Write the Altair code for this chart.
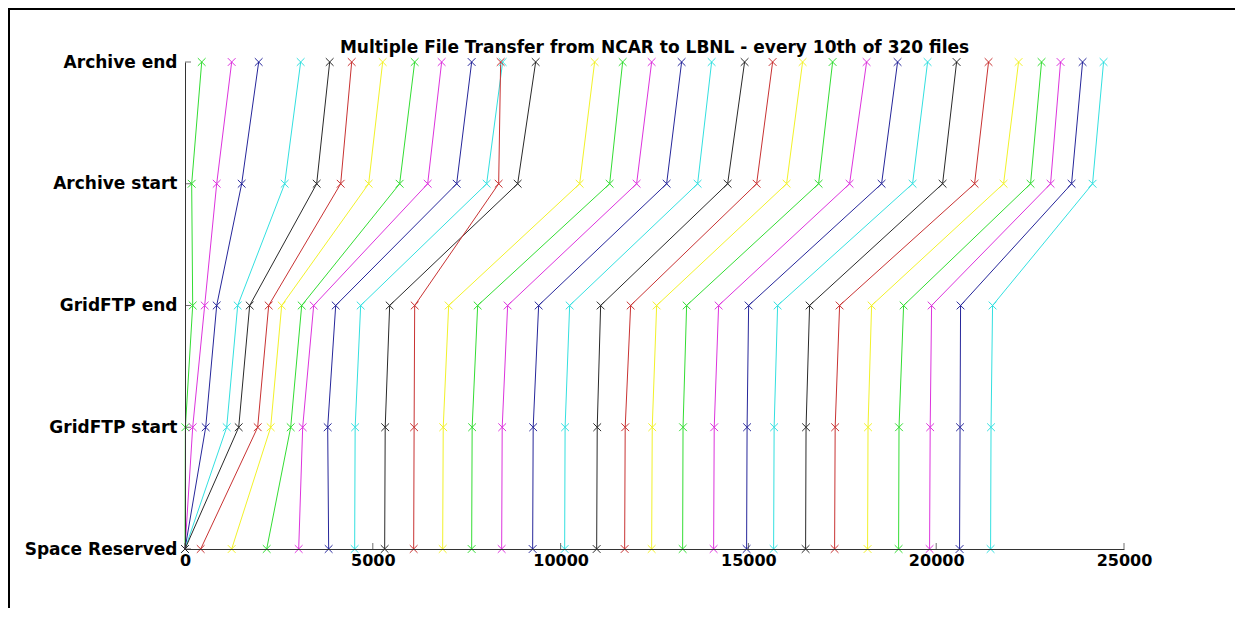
import altair as alt
import pandas as pd

# ---- data ----
stages = ["Space Reserved", "GridFTP start", "GridFTP end", "Archive start", "Archive end"]
file_ids = [10 * (i + 1) for i in range(32)]

space_reserved = [0, 0, 0, 0, 0, 418, 1243, 2175, 3027, 3825, 4517, 5316, 6088, 6860, 7632, 8431,
                  9256, 10108, 10960, 11705, 12424, 13249, 14074, 14952, 15671, 16523, 17295, 18173,
                  18999, 19824, 20622, 21448]
gridftp_start = [10, 205, 551, 1110, 1430, 1935, 2281, 2814, 3133, 3799, 4530, 5330, 6100, 6875, 7645,
                 8445, 9270, 10120, 10975, 11720, 12440, 13260, 14090, 14965, 15685, 16535, 17310,
                 18185, 19010, 19840, 20635, 21460]
gridftp_end = [205, 524, 844, 1403, 1722, 2228, 2574, 3107, 3426, 4012, 4677, 5449, 6115, 7020, 7792,
               8590, 9415, 10241, 11066, 11865, 12557, 13355, 14207, 15006, 15778, 16629, 17428,
               18280, 19132, 19877, 20649, 21501]
archive_start = [178, 844, 1509, 2654, 3506, 4145, 4890, 5715, 6461, 7233, 8031, 8857, 8351, 10507,
                 11306, 12024, 12823, 13648, 14447, 15219, 16017, 16869, 17694, 18546, 19371, 20170,
                 21022, 21794, 22512, 23045, 23604, 24163]
archive_end = [445, 1243, 1962, 3080, 3852, 4438, 5263, 6115, 6833, 7632, 8457, 9336, 8404, 10906,
               11652, 12424, 13222, 14021, 14899, 15645, 16443, 17242, 18147, 18972, 19771, 20543,
               21394, 22193, 22805, 23311, 23897, 24456]

x_ticks = [0, 5000, 10000, 15000, 20000, 25000]

# colour cycle: green, magenta, blue, cyan, black, red, yellow
palette = ["#33dd33", "#dd33dd", "#26269a", "#33e0e0", "#2a2a2a", "#c83232", "#f2f22a"]

title_text = "Multiple File Transfer from NCAR to LBNL - every 10th of 320 files"
FONT = "DejaVu Sans"

# ---- long table ----
series = [space_reserved, gridftp_start, gridftp_end, archive_start, archive_end]
rows = []
for fi, fid in enumerate(file_ids):
    for si, st in enumerate(stages):
        rows.append({"file": fid, "stage": st, "level": si, "t": series[si][fi]})
df = pd.DataFrame(rows)

color_range = [palette[i % len(palette)] for i in range(len(file_ids))]
label_expr = "[" + ",".join("'%s'" % s for s in stages) + "][datum.value]"

x_scale = alt.Scale(domain=[0, 25000], nice=False, zero=False)
y_scale = alt.Scale(domain=[0, len(stages) - 1], nice=False, zero=False)

x_enc = alt.X("t:Q", scale=x_scale,
              axis=alt.Axis(values=x_ticks, format="d", title=None, grid=False, ticks=False,
                            tickSize=0, labelPadding=3, labelFont=FONT, labelFontSize=16,
                            labelFontWeight="bold", labelColor="black", labelFlush=False,
                            labelOverlap=False, domainColor="#333333", zindex=1))
y_enc = alt.Y("level:Q", scale=y_scale,
              axis=alt.Axis(values=list(range(len(stages))), labelExpr=label_expr, title=None,
                            grid=False, ticks=False, tickSize=0, labelPadding=8,
                            labelFont=FONT, labelFontSize=17, labelFontWeight="bold",
                            labelColor="black", labelFlush=False, labelOverlap=False,
                            domainColor="#333333", zindex=1))
color_enc = alt.Color("file:N", scale=alt.Scale(domain=file_ids, range=color_range), legend=None)

base = alt.Chart(df)

lines = base.mark_line(strokeWidth=1).encode(
    x=x_enc, y=y_enc, color=color_enc, detail="file:N", order=alt.Order("level:Q")
)
points = base.mark_point(shape="M-1,-1L1,1M-1,1L1,-1", filled=False, strokeWidth=1, size=60,
                         opacity=1).encode(
    x="t:Q", y="level:Q", color=color_enc
)

xtick_df = pd.DataFrame({"t": x_ticks, "level": [0] * len(x_ticks)})
xticks = alt.Chart(xtick_df).mark_tick(orient="vertical", size=6, yOffset=-3, thickness=1,
                                       color="#333333").encode(x="t:Q", y="level:Q")

ytick_df = pd.DataFrame({"t": [0] * len(stages), "level": list(range(len(stages)))})
yticks = alt.Chart(ytick_df).mark_tick(orient="horizontal", size=6, xOffset=3, thickness=1,
                                       color="#333333").encode(x="t:Q", y="level:Q")

one = alt.Data(values=[{"a": 1}])
title_mark = alt.Chart(one).mark_text(font=FONT, fontSize=17, fontWeight="bold", align="center",
                                      baseline="alphabetic", color="black").encode(
    x=alt.value(469.5), y=alt.value(-9), text=alt.value(title_text)
)
border_left = alt.Chart(one).mark_rule(color="black", strokeWidth=2).encode(
    x=alt.value(-176), x2=alt.value(-176), y=alt.value(-54), y2=alt.value(546)
)
border_top = alt.Chart(one).mark_rule(color="black", strokeWidth=2).encode(
    x=alt.value(-177), x2=alt.value(1050), y=alt.value(-53), y2=alt.value(-53)
)

chart = alt.layer(lines, points, xticks, yticks, title_mark, border_left, border_top).properties(
    width=939, height=487,
    autosize=alt.AutoSizeParams(type="none"),
    padding={"left": 177, "top": 54, "right": 111, "bottom": 59},
).configure(background="white", view=alt.ViewConfig(strokeWidth=0, stroke="transparent"))

chart.save("out.html", embed_options={"renderer": "svg", "actions": False})
